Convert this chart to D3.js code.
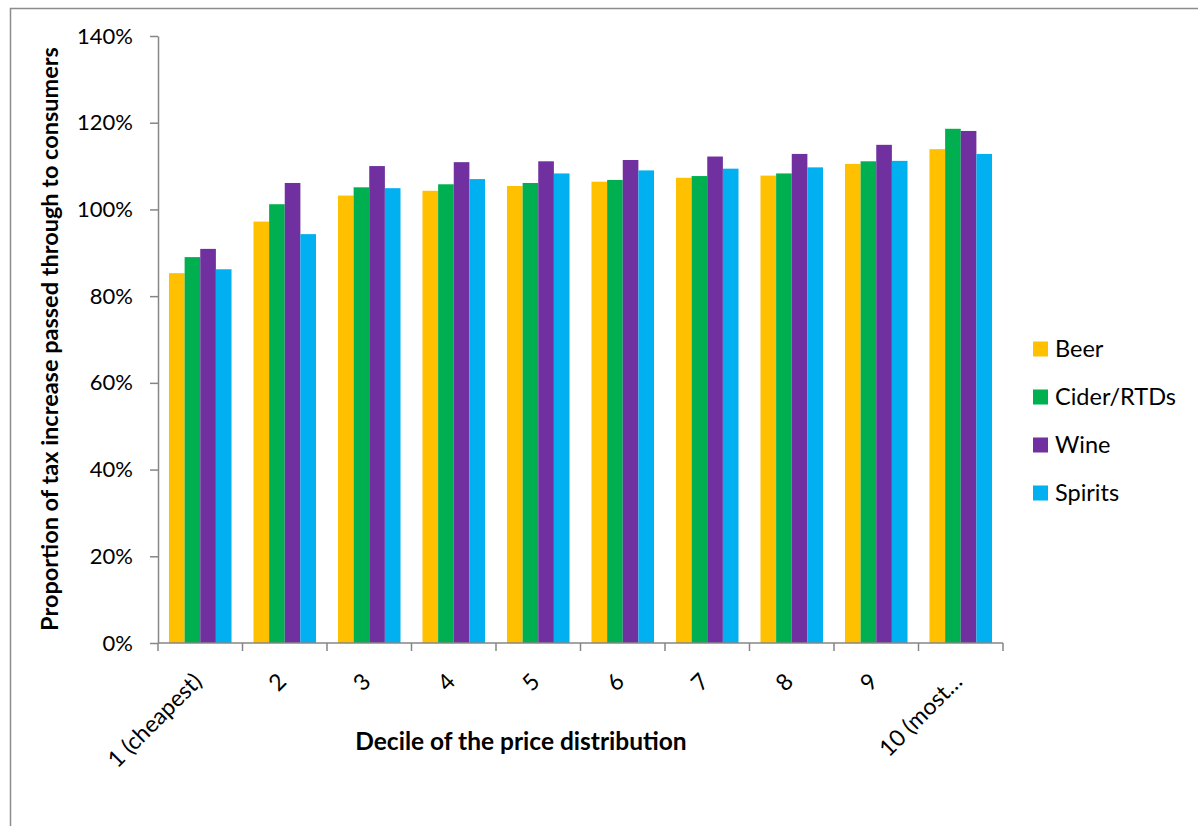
<!DOCTYPE html>
<html>
<head>
<meta charset="utf-8">
<script src="https://cdn.jsdelivr.net/npm/d3@7"></script>
<style>
  body { margin: 0; background: #fff; }
  svg { display: block; font-family: Lato, "Open Sans", sans-serif; }
</style>
</head>
<body>
<svg id="chart" width="1198" height="826"></svg>
<script>
// Price deciles and pass-through shares (%) by drink type
const deciles = ["1 (cheapest)", "2", "3", "4", "5", "6", "7", "8", "9", "10 (most…"];
const seriesNames = ["Beer", "Cider/RTDs", "Wine", "Spirits"];
const beer    = [85.3, 97.2, 103.2, 104.3, 105.4, 106.4, 107.3, 107.8, 110.5, 113.9];
const cider   = [89.0, 101.2, 105.1, 105.8, 106.1, 106.8, 107.7, 108.3, 111.1, 118.6];
const wine    = [90.9, 106.1, 110.0, 110.9, 111.1, 111.4, 112.2, 112.8, 114.9, 118.1];
const spirits = [86.2, 94.3, 104.9, 107.0, 108.3, 109.0, 109.4, 109.7, 111.2, 112.8];
const yTicks  = [0, 20, 40, 60, 80, 100, 120, 140];
const colors  = ["#FFC000", "#00B050", "#7030A0", "#00B0F0"];

const seriesValues = [beer, cider, wine, spirits];
const svg = d3.select("#chart");

// outer frame
svg.append("rect")
  .attr("x", 10.5).attr("y", 8.5)
  .attr("width", 1300).attr("height", 1000)
  .attr("fill", "none").attr("stroke", "#8c8c8c").attr("stroke-width", 1.5);

const plot = { left: 158, right: 1003, top: 36, bottom: 643 };

const x0 = d3.scaleBand().domain(deciles).range([plot.left, plot.right]).paddingInner(0.26).paddingOuter(0.13);
const x1 = d3.scaleBand().domain(seriesNames).range([0, x0.bandwidth()]);
const y = d3.scaleLinear().domain([0, 140]).range([plot.bottom, plot.top]);

// bars
const groups = svg.append("g").selectAll("g")
  .data(deciles).join("g")
  .attr("transform", d => `translate(${x0(d)},0)`);

groups.selectAll("rect")
  .data((d, i) => seriesNames.map((s, k) => ({ s, k, v: seriesValues[k][i] })))
  .join("rect")
  .attr("x", d => x1(d.s))
  .attr("width", x1.bandwidth())
  .attr("y", d => y(d.v))
  .attr("height", d => y(0) - y(d.v))
  .attr("fill", d => colors[d.k]);

// y axis
const yAxis = svg.append("g")
  .attr("transform", `translate(${plot.left},0)`)
  .call(d3.axisLeft(y).tickValues(yTicks).tickFormat(d => d + "%").tickSize(8).tickSizeOuter(0));
yAxis.select(".domain").attr("stroke", "#868686").attr("stroke-width", 1.5);
yAxis.selectAll(".tick line").attr("stroke", "#868686").attr("stroke-width", 1.5);
yAxis.selectAll(".tick text").attr("font-size", 22).attr("fill", "#000")
  .attr("x", -25).attr("font-family", "Lato, sans-serif");

// x axis: domain line plus boundary ticks between categories
const xAxisG = svg.append("g");
xAxisG.append("line")
  .attr("x1", plot.left).attr("x2", plot.right)
  .attr("y1", plot.bottom).attr("y2", plot.bottom)
  .attr("stroke", "#868686").attr("stroke-width", 1.5);
const boundaries = d3.range(deciles.length + 1).map(i => plot.left + i * (plot.right - plot.left) / deciles.length);
xAxisG.selectAll("line.tk").data(boundaries).join("line")
  .attr("class", "tk")
  .attr("x1", d => d).attr("x2", d => d)
  .attr("y1", plot.bottom).attr("y2", plot.bottom + 8)
  .attr("stroke", "#868686").attr("stroke-width", 1.5);

xAxisG.selectAll("text").data(deciles).join("text")
  .attr("transform", d => `translate(${x0(d) + x0.bandwidth() / 2 + 3},${plot.bottom + 40}) rotate(-45)`)
  .attr("text-anchor", "end")
  .attr("font-size", 23)
  .attr("fill", "#000")
  .text(d => d);

// axis titles
svg.append("text")
  .attr("x", 521).attr("y", 750)
  .attr("text-anchor", "middle")
  .attr("font-size", 24.5).attr("font-weight", "bold")
  .text("Decile of the price distribution");

svg.append("text")
  .attr("transform", `translate(58,339) rotate(-90)`)
  .attr("text-anchor", "middle")
  .attr("font-size", 23.5).attr("font-weight", "bold")
  .text("Proportion of tax increase passed through to consumers");

// legend
const legend = svg.append("g").selectAll("g")
  .data(seriesNames).join("g")
  .attr("transform", (d, i) => `translate(1033,${349 + i * 48})`);
legend.append("rect")
  .attr("x", 0).attr("y", -7.5).attr("width", 15).attr("height", 15)
  .attr("fill", (d, i) => colors[i]);
legend.append("text")
  .attr("x", 22).attr("y", 0).attr("dy", "0.35em")
  .attr("font-size", 23.5).attr("fill", "#000")
  .text(d => d);
</script>
</body>
</html>
